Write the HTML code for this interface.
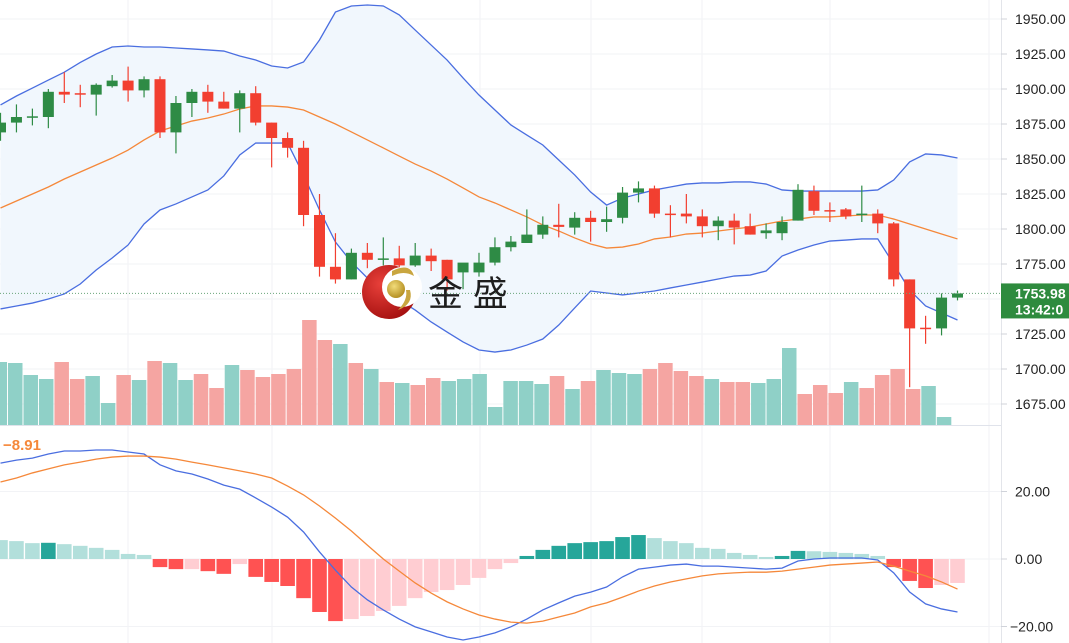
<!DOCTYPE html>
<html><head><meta charset="utf-8">
<style>
html,body{margin:0;padding:0;background:#fff;}
svg{display:block;font-family:"Liberation Sans","Noto Sans CJK SC",sans-serif;}
</style></head>
<body>
<svg id="chart" width="1069" height="643" viewBox="0 0 1069 643" xmlns="http://www.w3.org/2000/svg">
  <g id="grid"></g>
  <g id="bands"></g>
  <g id="vol"></g>
  <g id="candles"></g>
  <g id="macd"></g>
  <g>
    <defs>
      <radialGradient id="rg" cx="0.35" cy="0.35" r="0.8"><stop offset="0" stop-color="#e8403a"/><stop offset="1" stop-color="#9c0a0a"/></radialGradient>
      <radialGradient id="gg" cx="0.4" cy="0.35" r="0.7"><stop offset="0" stop-color="#f2dc7a"/><stop offset="1" stop-color="#b08a1c"/></radialGradient>
    </defs>
    <circle cx="389" cy="292" r="27" fill="url(#rg)"/>
    <circle cx="402" cy="287" r="20" fill="#fff"/>
    <path d="M392 271 Q410 262 414 276 Q404 270 392 276 Z" fill="#c9a640"/>
    <path d="M410 290 Q414 304 398 310 Q408 300 406 290 Z" fill="#c9a640"/>
    <circle cx="396" cy="289" r="9" fill="url(#gg)"/>
    <text x="428" y="306" font-size="35" fill="#1e1e1e">金 盛</text>
  </g>
  <g id="axis"></g>
</svg>
<script>
// ---- price data (61 candles) ----
const opens  = [1869,1876,1880,1880,1898,1897,1896,1902,1906,1899,1907,1869,1890,1898,1891,1886,1897,1876,1865,1858,1810,1773,1764,1783,1778,1779,1774,1781,1778,1769,1769,1776,1787,1790,1796,1803,1801,1808,1805,1808,1826,1829,1811,1811,1809,1802,1806,1802,1797,1797,1806,1827,1813.5,1814,1810,1811,1804,1764,1729.5,1729,1751];
const closes = [1876,1880,1880.5,1898,1896,1896.5,1903,1906,1899,1907,1869,1890,1898,1891,1886,1897,1876,1865,1858,1810,1773,1764,1783,1778,1779,1774,1781,1777,1764,1776,1776,1787,1791,1796,1803,1801.5,1808,1805,1807,1826,1829,1811,1810.5,1809,1802,1806,1801,1796,1799,1805,1828,1813,1813,1809,1811,1804,1764,1729,1729,1751,1753.98];
const highs  = [1883,1889,1886,1900,1912,1903,1904,1910,1916,1909,1909,1895,1900,1903,1898,1899,1902,1876,1869,1863,1825,1797,1786,1790,1794,1788,1790,1786,1778,1774,1783,1794,1795,1814,1809,1818,1812,1813,1816,1830,1834,1831,1817,1825,1814,1809,1811,1811,1804,1809,1832,1831,1819,1815,1831,1814,1805,1764,1738,1754,1756];
const lows   = [1863,1869,1874,1872,1890,1887,1881,1901,1891,1894,1865,1854,1880,1883,1886,1869,1874,1844,1851,1802,1766,1761,1764,1772,1774,1769,1773,1770,1756,1757,1766,1774,1784,1790,1793,1794,1796,1791,1798,1804,1819,1808,1794,1804,1794,1792,1789,1796,1793,1792,1806,1810,1805,1807,1805,1797,1759,1687,1718,1724,1749];
const bbUpper = [1888.6,1895,1900.7,1906.4,1912,1919,1925,1930,1930.7,1930,1930,1929.3,1928.6,1927.9,1927.1,1923.6,1920.7,1916.4,1915,1919.3,1935,1955,1959.3,1960,1959.3,1952.9,1942.1,1931.4,1920.7,1907.9,1895.7,1885,1874.3,1867.1,1860,1849.3,1838.6,1826.4,1817.1,1822.1,1825,1827.9,1830,1832.1,1832.9,1832.9,1833.6,1833.6,1832.1,1827.9,1827.1,1827.1,1827.1,1827.1,1827.1,1827.9,1835,1847.9,1853.6,1852.9,1850.7];
const bbMid = [1815,1820,1825,1830,1835.7,1840.7,1845.7,1850.7,1856.4,1863.6,1870,1873.6,1877.1,1879.3,1882.1,1885.7,1887.9,1887.9,1887.1,1885,1880,1875,1869.3,1863.6,1857.9,1852.1,1846.4,1841.4,1835.7,1829.3,1822.9,1818.6,1813.6,1808.6,1802.9,1798.6,1793.6,1789.3,1786.4,1787.1,1789.3,1792.9,1794.3,1796.4,1797.1,1798.6,1800,1801.4,1803.6,1805.7,1807.1,1808.6,1808.6,1809.3,1810,1810,1807.1,1803.6,1800,1796.4,1792.9];
const bbLower = [1742.9,1745,1747.1,1750,1753.6,1760.7,1770.7,1779.3,1788.6,1803.6,1813.6,1817.9,1822.9,1827.9,1837.9,1852.9,1861.4,1861.4,1861.4,1838.6,1813.6,1790.7,1776.4,1765,1755.7,1749.3,1742.1,1733.6,1726.4,1719.3,1713.6,1712.1,1713.6,1717.1,1721.4,1731.4,1743.6,1755.7,1754.3,1752.9,1754.3,1755.7,1757.9,1760,1762.1,1764.3,1766.4,1767.1,1770,1780.7,1785,1788.6,1791.4,1792.1,1792.9,1792.9,1775,1756.4,1745,1740,1735];
// ---- volume (62 bars, first partially visible) ----
const volumes = [63,62,50,46,63,46,49,22,50,45,64,62,45,51,37,60,55,48,51,56,105,85,81,62,56,43,42,40,47,44,46,51,18,44,44,41,49,36,44,55,52,51,56,62,54,49,46,43,43,42,46,77,31,40,32,43,37,50,56,36,39,8];
const volumeUp = [1,1,1,1,0,0,1,1,0,1,0,1,1,0,0,1,0,0,0,0,0,0,1,0,1,0,1,0,0,1,1,1,1,1,1,1,0,1,0,1,1,1,0,0,0,0,1,0,0,1,1,1,0,0,0,1,0,0,0,0,1,1];
// ---- MACD ----
const macdHist = [5.6,5.3,4.7,4.8,4.4,3.9,3.3,2.7,1.5,1.2,-2.4,-3.0,-3.0,-3.6,-4.4,-1.5,-5.3,-6.8,-8.0,-11.6,-15.7,-18.4,-17.8,-16.9,-15.4,-13.9,-11.6,-9.8,-9.2,-7.7,-5.6,-3.0,-1.2,0.9,2.7,3.9,4.7,5.0,5.3,6.5,7.1,6.2,5.3,4.7,3.3,3.0,1.8,1.2,0.6,0.9,2.4,2.3,2.1,1.8,1.5,0.9,-2.4,-6.5,-8.6,-7.7,-7.1];
const macdLine = [28.4,29.3,29.9,31.1,32.0,32.0,32.3,32.3,31.7,31.1,27.9,26.1,25.2,23.7,21.9,20.7,18.1,15.4,12.4,8.0,2.1,-3.3,-8.3,-12.1,-15.1,-17.8,-20.1,-21.6,-23.1,-24.0,-23.1,-21.9,-20.1,-17.8,-15.1,-13.0,-11.0,-9.8,-8.3,-5.3,-3.0,-2.4,-1.8,-1.5,-2.1,-2.1,-2.4,-2.7,-3.0,-2.7,-0.6,0,0.3,0.3,0.3,-0.3,-4.1,-9.8,-13.3,-14.8,-15.7];
const signalLine = [22.8,24.0,25.5,26.7,27.9,28.7,29.6,30.2,30.5,30.5,30.2,29.6,28.7,27.9,27.0,26.1,25.2,24.0,21.6,19.0,15.7,12.1,8.3,4.1,0,-3.6,-7.1,-10.1,-12.7,-14.8,-16.6,-17.8,-18.7,-19.0,-18.4,-17.2,-16.0,-14.2,-13.0,-11.3,-9.5,-8.0,-6.8,-5.9,-5.0,-4.4,-4.1,-3.9,-3.9,-3.6,-3.0,-2.4,-1.8,-1.5,-1.2,-0.9,-2.1,-3.6,-5.0,-6.8,-8.91];
const priceTicks = [1950,1925,1900,1875,1850,1825,1800,1775,1750,1725,1700,1675];
const macdTicks = [20,0,-20];
const lastTime = "13:42:0";

const NS="http://www.w3.org/2000/svg";
function mk(tag, attrs, parent){const e=document.createElementNS(NS,tag);for(const k in attrs)e.setAttribute(k,attrs[k]);parent.appendChild(e);return e;}
const xC = i => 0.5 + 15.95*i;
const yP = p => 19 + (1950-p)*1.4;
const yM = v => 559 - v*3.375;
const xV = k => 8 + 15.48*(k-1);
const yVolBase = 425;

const grid=document.getElementById('grid');
[128,272,480,591,702,830,989].forEach(x=>{
  const l=mk('line',{x1:x,x2:x,y1:0,y2:643,stroke:'#f0f2f5','stroke-width':1},grid);
  
  
});
priceTicks.forEach(p=>{
  const l=mk('line',{x1:0,x2:1001,y1:yP(p),y2:yP(p),stroke:'#f2f3f6','stroke-width':1},grid);
  
  
});
macdTicks.forEach(v=>{
  const l=mk('line',{x1:0,x2:1001,y1:yM(v),y2:yM(v),stroke:'#f2f3f6','stroke-width':1},grid);
  
  
});

// bands
const bands=document.getElementById('bands');
let up=bbUpper.map((v,i)=>xC(i)+','+yP(v));
let lo=bbLower.map((v,i)=>xC(i)+','+yP(v)).reverse();
const fill=mk('polygon',{points:up.concat(lo).join(' '),fill:'#f1f7fd'},bands);


[[bbUpper,'#4a6ee0','upper-band'],[bbLower,'#4a6ee0','lower-band'],[bbMid,'#f5883a','middle-band']].forEach(([arr,c,n])=>{
  const pl=mk('polyline',{points:arr.map((v,i)=>xC(i)+','+yP(v)).join(' '),fill:'none',stroke:c,'stroke-width':1.3},bands);
  
  
});

// volume
const vol=document.getElementById('vol');
volumes.forEach((v,k)=>{
  const x=Math.max(0,xV(k)), w=xV(k)+14.5-x;
  const r=mk('rect',{x:x,y:yVolBase-v,width:w,height:v,fill:volumeUp[k]?'#8fd0c7':'#f5a5a2'},vol);
  
  
});
const sep=mk('line',{x1:0,x2:1001,y1:425.5,y2:425.5,stroke:'#e0e3eb','stroke-width':1},vol);



// candles
const cg=document.getElementById('candles');
opens.forEach((o,i)=>{
  const c=closes[i], upc=c>=o, col=upc?'#2e8b45':'#f23f30', x=xC(i);
  const g=mk('g',{},cg);
  
  
  mk('line',{x1:x,x2:x,y1:yP(highs[i]),y2:yP(lows[i]),stroke:col,'stroke-width':1.2},g);
  const t=yP(Math.max(o,c)), b=yP(Math.min(o,c));
  mk('rect',{x:x-5.5,y:t,width:11,height:Math.max(1.5,b-t),fill:col},g);
});
const lastY=yP(closes[closes.length-1]);
const dl=mk('line',{x1:0,x2:1001,y1:lastY,y2:lastY,stroke:'#6aa57a','stroke-width':1,'stroke-dasharray':'1,2'},cg);



// macd
const mg=document.getElementById('macd');
macdHist.forEach((v,i)=>{
  const prev=i>0?macdHist[i-1]:v+1;
  let col;
  if(v>=0) col=(v>prev)?'#26a69a':'#b2dfdb'; else col=(v<prev)?'#ff5252':'#ffcdd2';
  const y0=yM(0), y1=yM(v);
  const x=Math.max(0,xC(i)-7.3), w=xC(i)+7.3-x;
  const r=mk('rect',{x:x,y:Math.min(y0,y1),width:w,height:Math.abs(y1-y0),fill:col},mg);
  
  
});
const ml=mk('polyline',{points:macdLine.map((v,i)=>xC(i)+','+yM(v)).join(' '),fill:'none',stroke:'#4a6ee0','stroke-width':1.3},mg);


const sl=mk('polyline',{points:signalLine.map((v,i)=>xC(i)+','+yM(v)).join(' '),fill:'none',stroke:'#f5883a','stroke-width':1.3},mg);


const mlab=mk('text',{x:3,y:450,'font-size':15,'font-weight':'bold',fill:'#f5883a'},mg);
mlab.textContent='\u22128.91';



// axis
const ax=document.getElementById('axis');
const axBg=mk('rect',{x:1001,y:0,width:68,height:643,fill:'#fff'},ax);


const axl=mk('line',{x1:1001.5,x2:1001.5,y1:0,y2:643,stroke:'#e3e5ea','stroke-width':1},ax);


priceTicks.forEach(p=>{
  mk('line',{x1:1001,x2:1007,y1:yP(p),y2:yP(p),stroke:'#d0d3da'},ax);
  const t=mk('text',{x:1015,y:yP(p)+5,'font-size':14,fill:'#222'},ax);
  t.textContent=p.toFixed(2);
  
  
});
macdTicks.forEach(v=>{
  mk('line',{x1:1001,x2:1007,y1:yM(v),y2:yM(v),stroke:'#d0d3da'},ax);
  const t=mk('text',{x:v<0?1010:1015,y:yM(v)+5,'font-size':14,fill:'#222'},ax);
  t.textContent=(v<0?'\u2212':'')+Math.abs(v).toFixed(2);
  
  
});
const tag=mk('g',{},ax);


mk('rect',{x:1001,y:lastY-10,width:68,height:35,fill:'#2e8b3e'},tag);
const t1=mk('text',{x:1015,y:lastY+5,'font-size':14,'font-weight':'bold',fill:'#fff'},tag);
t1.textContent=closes[closes.length-1].toFixed(2);
const t2=mk('text',{x:1015,y:lastY+21,'font-size':14,'font-weight':'bold',fill:'#fff'},tag);
t2.textContent=lastTime;
</script>
</body></html>
